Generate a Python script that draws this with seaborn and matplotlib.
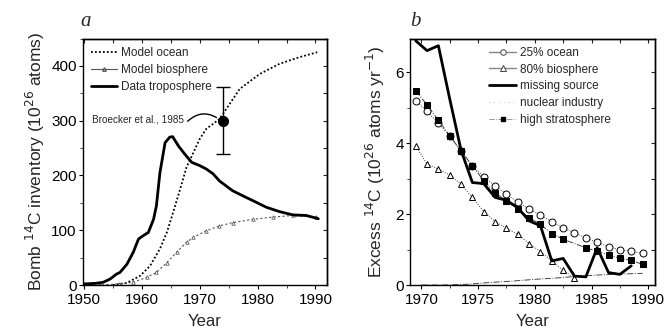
import numpy as np
import pandas as pd
import matplotlib
matplotlib.use("Agg")
import matplotlib.pyplot as plt
import seaborn as sns
from matplotlib.lines import Line2D

# ---------------- Panel a data ----------------
tropo_year = [1950, 1952, 1953.3, 1954.5, 1955.6, 1956.2, 1957.4, 1958.5, 1959.4, 1960.2,
              1961.1, 1962, 1962.5, 1963.1, 1964, 1964.8, 1965.3, 1966.3, 1967.4, 1968.6,
              1970, 1971.1, 1972.3, 1973.4, 1975.7, 1978, 1979.2, 1981.5, 1983.8, 1986.1,
              1988.4, 1990.5]
tropo_val = [2, 3, 5, 11, 20, 23, 38, 60, 84, 90,
             96, 120, 145, 205, 260, 270, 271, 254, 239, 224,
             218, 212, 203, 190, 172, 160, 154, 142, 134, 128,
             127, 121]

ocean_year = [1955, 1957.4, 1959.7, 1961.4, 1963.1, 1964.3, 1965.4, 1966.6, 1967.7, 1968.9,
              1970, 1971.1, 1973.4, 1976.9, 1980.3, 1983.8, 1987.2, 1990.3]
ocean_val = [0, 4, 17, 35, 66, 96, 133, 175, 215, 242,
             267, 285, 303, 358, 385, 404, 416, 425]

bio_year = [1950, 1952.8, 1956, 1958.5, 1960.8, 1962.5, 1964.3, 1966, 1967.7, 1968.9,
            1971.1, 1973.4, 1975.7, 1979.2, 1982.6, 1986.1, 1990.1]
bio_val = [0, 0, 2, 5, 14, 23, 41, 60, 78, 87,
           99, 108, 114, 120, 124, 127, 124]

broecker_year = [1974]
broecker_val = [300]
broecker_low = [240]
broecker_high = [362]

# ---------------- Panel b data ----------------
b_years = [1969.5, 1970.5, 1971.5, 1972.5, 1973.5, 1974.5, 1975.5, 1976.5, 1977.5, 1978.5,
           1979.5, 1980.5, 1981.5, 1982.5, 1983.5, 1984.5, 1985.5, 1986.5, 1987.5, 1988.5,
           1989.5]
ocean25 = [5.2, 4.9, 4.56, 4.2, 3.78, 3.36, 3.05, 2.8, 2.56, 2.34,
           2.14, 1.97, 1.79, 1.6, 1.48, 1.32, 1.21, 1.08, 0.99, 0.96,
           0.89]
bio80_years = [1969.5, 1970.5, 1971.5, 1972.5, 1973.5, 1974.5, 1975.5, 1976.5, 1977.5, 1978.5,
               1979.5, 1980.5, 1981.5, 1982.5, 1983.5]
bio80 = [3.93, 3.41, 3.27, 3.1, 2.84, 2.47, 2.07, 1.79, 1.6, 1.43,
         1.17, 0.94, 0.68, 0.41, 0.19]
missing_years = [1969.5, 1970.5, 1971.5, 1972.5, 1973.5, 1974.5, 1975.5, 1976.5, 1977.5, 1978.5,
                 1979.5, 1980.5, 1981.5, 1982.5, 1983.5, 1984.5, 1985.5, 1986.5, 1987.5, 1988.5]
missing = [6.89, 6.61, 6.75, 5.25, 3.8, 2.89, 2.86, 2.47, 2.39, 2.18,
           1.81, 1.67, 0.68, 0.75, 0.25, 0.23, 1.05, 0.35, 0.3, 0.54]
nuclear_years = [1970, 1972, 1974, 1976, 1978, 1980, 1982, 1984, 1986, 1988.5, 1989.5]
nuclear = [0.0, 0.0, 0.02, 0.07, 0.11, 0.16, 0.2, 0.25, 0.29, 0.32, 0.33]
strat_years = [1969.5, 1970.5, 1971.5, 1972.5, 1973.5, 1974.5, 1975.5, 1976.5, 1977.5, 1978.5,
               1979.5, 1980.5, 1981.5, 1982.5, 1984.5, 1985.5, 1986.5, 1987.5, 1988.5, 1989.5]
strat = [5.48, 5.08, 4.65, 4.21, 3.78, 3.36, 2.94, 2.6, 2.37, 2.14,
         1.9, 1.71, 1.45, 1.29, 1.05, 0.95, 0.85, 0.75, 0.7, 0.58]

# ---------------- Style ----------------
sns.set_theme(style="ticks")
plt.rcParams['font.family'] = ['Liberation Sans', 'DejaVu Sans']
plt.rcParams['axes.edgecolor'] = 'black'
plt.rcParams['axes.linewidth'] = 1.0

fig = plt.figure(figsize=(6.64, 3.29), dpi=100)
axa = fig.add_axes([0.125, 0.1337, 0.3675, 0.749])
axb = fig.add_axes([0.6175, 0.1337, 0.369, 0.749])

def style_axes(ax):
    ax.tick_params(axis='both', which='major', direction='out', length=3, width=0.8,
                   labelsize=11, colors='black', pad=1.5)
    ax.tick_params(axis='x', which='major', pad=2.5)
    ax.tick_params(axis='both', which='minor', direction='out', length=2, width=0.6)
    sec_x = ax.secondary_xaxis('top')
    sec_y = ax.secondary_yaxis('right')
    for s in (sec_x, sec_y):
        s.tick_params(direction='in', length=3, width=0.8, labelsize=0)
        s.tick_params(which='minor', direction='in', length=2, width=0.6)
    sec_x.set_xticklabels([])
    sec_y.set_yticklabels([])
    return sec_x, sec_y

# ---------------- Panel a ----------------
df_t = pd.DataFrame({'Year': tropo_year, 'v': tropo_val})
df_o = pd.DataFrame({'Year': ocean_year, 'v': ocean_val})
df_b = pd.DataFrame({'Year': bio_year, 'v': bio_val})

sns.lineplot(data=df_o, x='Year', y='v', ax=axa, color='black', lw=1.3, linestyle=(0, (1, 1.2)))
sns.lineplot(data=df_b, x='Year', y='v', ax=axa, color='#555555', lw=0.8, linestyle=(0, (2, 2)),
             marker='^', markersize=2.5, markerfacecolor='white', markeredgecolor='#444444',
             markeredgewidth=0.5)
sns.lineplot(data=df_t, x='Year', y='v', ax=axa, color='black', lw=2.0)

axa.errorbar(broecker_year, broecker_val,
             yerr=[[broecker_val[0] - broecker_low[0]], [broecker_high[0] - broecker_val[0]]],
             fmt='o', color='black', markersize=7, capsize=5, elinewidth=1, capthick=1)
axa.text(1951.4, 302, 'Broecker et al., 1985', fontsize=7.2, va='center', ha='left')
axa.annotate('', xy=(1973.3, 303), xytext=(1967.9, 299),
             arrowprops=dict(arrowstyle='-', color='black', lw=1,
                             connectionstyle='arc3,rad=-0.4', shrinkA=0, shrinkB=2))

axa.set_xlim(1949.8, 1992)
axa.set_ylim(0, 450)
axa.set_xticks([1950, 1960, 1970, 1980, 1990])
axa.set_yticks([0, 100, 200, 300, 400])
axa.set_xticks(np.arange(1955, 1992, 10), minor=True)
axa.set_yticks(np.arange(50, 451, 100), minor=True)
axa.set_xlabel('Year', fontsize=12, labelpad=5)
axa.set_ylabel('Bomb $^{14}$C inventory (10$^{26}$ atoms)', fontsize=12.5, labelpad=3)
style_axes(axa)

handles_a = [
    Line2D([], [], color='black', lw=1.3, linestyle=(0, (1, 1.2))),
    Line2D([], [], color='#555555', lw=0.8, linestyle='-', marker='^', markersize=2.5,
           markerfacecolor='white', markevery=[0]),
    Line2D([], [], color='black', lw=2.0),
]
axa.legend(handles_a, ['Model ocean', 'Model biosphere', 'Data troposphere'],
           loc='upper left', frameon=False, fontsize=8.5, handlelength=2.2,
           handletextpad=0.3, labelspacing=0.45, borderaxespad=0.3)
axa.text(-0.01, 1.03, 'a', transform=axa.transAxes, fontsize=15, style='italic',
         family=['Liberation Serif', 'DejaVu Serif'], ha='left', va='bottom')

# ---------------- Panel b ----------------
df_oc = pd.DataFrame({'Year': b_years, 'v': ocean25})
df_bi = pd.DataFrame({'Year': bio80_years, 'v': bio80})
df_ms = pd.DataFrame({'Year': missing_years, 'v': missing})
df_nu = pd.DataFrame({'Year': nuclear_years, 'v': nuclear})
df_st = pd.DataFrame({'Year': strat_years, 'v': strat})

sns.lineplot(data=df_nu, x='Year', y='v', ax=axb, color='#444444', lw=0.7, linestyle='-.')
sns.lineplot(data=df_oc, x='Year', y='v', ax=axb, color='#444444', lw=0.7, linestyle=(0, (1, 1.5)),
             marker='o', markersize=5, markerfacecolor='white', markeredgecolor='black',
             markeredgewidth=0.7)
sns.lineplot(data=df_bi, x='Year', y='v', ax=axb, color='#444444', lw=0.7, linestyle=(0, (1, 1.5)),
             marker='^', markersize=5, markerfacecolor='white', markeredgecolor='black',
             markeredgewidth=0.7)
sns.lineplot(data=df_st, x='Year', y='v', ax=axb, color='#444444', lw=0.7, linestyle='-.',
             marker='s', markersize=4, markerfacecolor='black', markeredgecolor='black')
sns.lineplot(data=df_ms, x='Year', y='v', ax=axb, color='black', lw=2.0)

axb.set_xlim(1969, 1990.6)
axb.set_ylim(0, 6.95)
axb.set_xticks([1970, 1975, 1980, 1985, 1990])
axb.set_yticks([0, 2, 4, 6])
axb.set_xticks(np.arange(1972.5, 1990, 5), minor=True)
axb.set_yticks([1, 3, 5], minor=True)
axb.set_xlabel('Year', fontsize=12, labelpad=5)
axb.set_ylabel('Excess $^{14}$C (10$^{26}$ atoms yr$^{-1}$)', fontsize=12.5, labelpad=6)
style_axes(axb)

handles_b = [
    Line2D([], [], color='#888888', lw=1.0, marker='o', markersize=4, markerfacecolor='white',
           markeredgecolor='#444444', markeredgewidth=0.7),
    Line2D([], [], color='#888888', lw=1.0, marker='^', markersize=4, markerfacecolor='white',
           markeredgecolor='#444444', markeredgewidth=0.7),
    Line2D([], [], color='black', lw=2.0),
    Line2D([], [], color='#999999', lw=0.5, linestyle=(0, (1, 6))),
    Line2D([], [], color='#888888', lw=0.6, linestyle='-.', marker='s', markersize=3.5,
           markerfacecolor='black', markeredgecolor='black'),
]
axb.legend(handles_b, ['25% ocean', '80% biosphere', 'missing source', 'nuclear industry',
                       'high stratosphere'],
           loc='upper left', bbox_to_anchor=(0.29, 1.0), frameon=False, fontsize=8.5,
           handlelength=2.3, handletextpad=0.3, labelspacing=0.4, borderaxespad=0.3)
axb.text(0.0, 1.03, 'b', transform=axb.transAxes, fontsize=15, style='italic',
         family=['Liberation Serif', 'DejaVu Serif'], ha='left', va='bottom')

fig.savefig('out.png', dpi=100)
